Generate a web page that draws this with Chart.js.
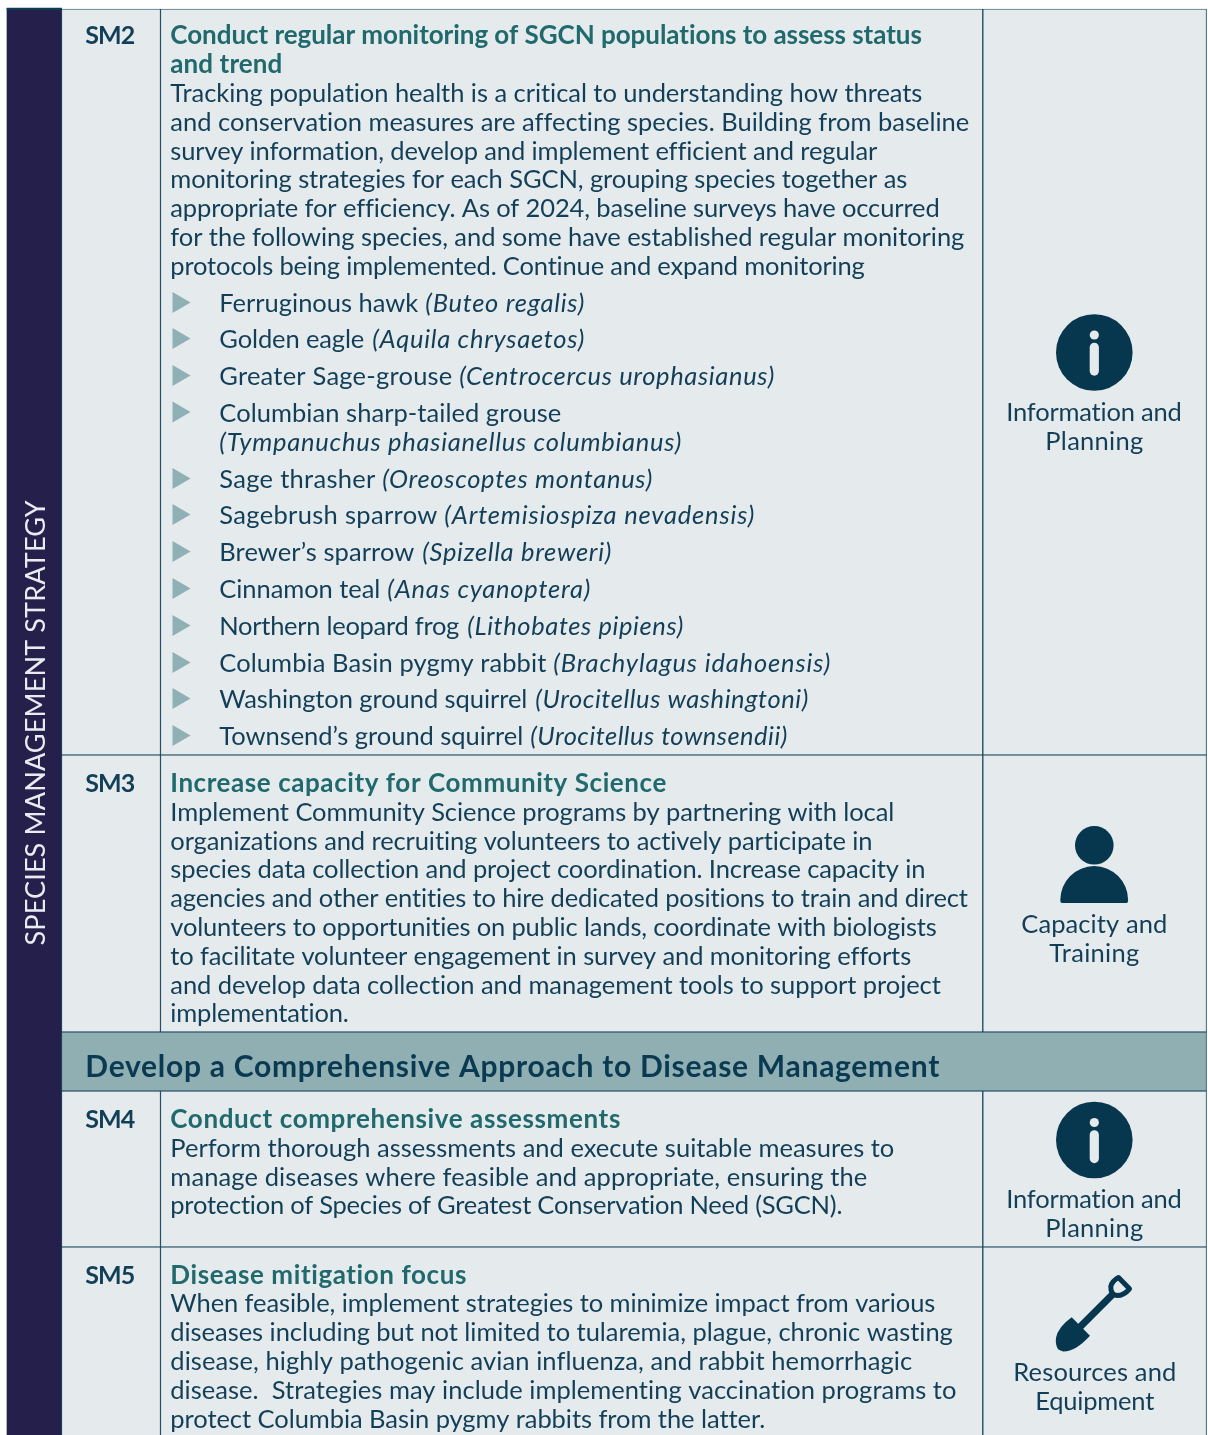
<!DOCTYPE html>
<html>
<head>
<meta charset="utf-8">
<title>Species Management Strategy</title>
<script src="https://cdn.jsdelivr.net/npm/chart.js@4"></script>
<style>
html,body{margin:0;padding:0;background:#fff}
canvas{display:block}
</style>
</head>
<body>
<canvas id="c" width="1208" height="1435"></canvas>
<script>
// ---------- content ----------
const sideTitle = "SPECIES MANAGEMENT STRATEGY";
const rowCodes = ["SM2", "SM3", "SM4", "SM5"];
const bandTitle = "Develop a Comprehensive Approach to Disease Management";
const sm2Title = ["Conduct regular monitoring of SGCN populations to assess status", "and trend"];
const sm2Body = [
  "Tracking population health is a critical to understanding how threats",
  "and conservation measures are affecting species. Building from baseline",
  "survey information, develop and implement efficient and regular",
  "monitoring strategies for each SGCN, grouping species together as",
  "appropriate for efficiency. As of 2024, baseline surveys have occurred",
  "for the following species, and some have established regular monitoring",
  "protocols being implemented. Continue and expand monitoring"
];
const speciesCommon = ["Ferruginous hawk", "Golden eagle", "Greater Sage-grouse", "Columbian sharp-tailed grouse", "", "Sage thrasher", "Sagebrush sparrow", "Brewer\u2019s sparrow", "Cinnamon teal", "Northern leopard frog", "Columbia Basin pygmy rabbit", "Washington ground squirrel", "Townsend\u2019s ground squirrel"];
const speciesLatin = ["(Buteo regalis)", "(Aquila chrysaetos)", "(Centrocercus urophasianus)", "", "(Tympanuchus phasianellus columbianus)", "(Oreoscoptes montanus)", "(Artemisiospiza nevadensis)", "(Spizella breweri)", "(Anas cyanoptera)", "(Lithobates pipiens)", "(Brachylagus idahoensis)", "(Urocitellus washingtoni)", "(Urocitellus townsendii)"];
const sm3Title = ["Increase capacity for Community Science"];
const sm3Body = [
  "Implement Community Science programs by partnering with local",
  "organizations and recruiting volunteers to actively participate in",
  "species data collection and project coordination. Increase capacity in",
  "agencies and other entities to hire dedicated positions to train and direct",
  "volunteers to opportunities on public lands, coordinate with biologists",
  "to facilitate volunteer engagement in survey and monitoring efforts",
  "and develop data collection and management tools to support project",
  "implementation."
];
const sm4Title = ["Conduct comprehensive assessments"];
const sm4Body = [
  "Perform thorough assessments and execute suitable measures to",
  "manage diseases where feasible and appropriate, ensuring the",
  "protection of Species of Greatest Conservation Need (SGCN)."
];
const sm5Title = ["Disease mitigation focus"];
const sm5Body = [
  "When feasible, implement strategies to minimize impact from various",
  "diseases including but not limited to tularemia, plague, chronic wasting",
  "disease, highly pathogenic avian influenza, and rabbit hemorrhagic",
  "disease.  Strategies may include implementing vaccination programs to",
  "protect Columbia Basin pygmy rabbits from the latter."
];
const typeLabels = [
  ["Information and", "Planning"],
  ["Capacity and", "Training"],
  ["Information and", "Planning"],
  ["Resources and", "Equipment"]
];

// ---------- table geometry on the chart's value axes ----------
const columnEdges = [7, 61.5, 160.5, 982.8, 1206.5];
const rowEdges = [9, 755, 1032, 1091, 1247, 1445];
const bandRow = 2;
const bulletRows = [302.5, 338.5, 375.5, 412, 478.5, 514.5, 551.5, 588.5, 625.5, 662.5, 698.5, 735.5];

// ---------- line layout (baseline, left, right in axis units) ----------
const sm2TitleLayout = [[43, 922], [72, 282]];
const sm2BodyLayout = [[101, 923], [130, 969], [159, 876], [187, 907], [216, 938], [245, 964], [274, 865]];
const speciesLayout = [
  [311, 418, 425, 584], [347, 364, 372, 584], [384, 452, 459, 774], [421, 561, 0, 0],
  [450, 0, 219, 681], [487, 375, 382, 652], [523, 437, 444, 754], [560, 414, 422, 611],
  [597, 380, 387, 590], [634, 459, 467, 683], [671, 546, 553, 830], [707, 527, 535, 808], [744, 523, 530, 787]
];
const sm3TitleLayout = [[791, 666]];
const sm3BodyLayout = [[820, 894], [849, 874], [877, 926], [906, 969], [935, 937], [964, 910], [993, 941], [1021, 349]];
const sm4TitleLayout = [[1127, 620]];
const sm4BodyLayout = [[1156, 894], [1185, 867], [1213, 843]];
const sm5TitleLayout = [[1283, 467]];
const sm5BodyLayout = [[1311, 935], [1340, 953], [1369, 912], [1398, 957], [1427, 764]];
const codeBaselines = [43, 791, 1127, 1283];
const typeLayout = [
  [[420, 1006, 1182], [449, 1045, 1143]],
  [[932, 1021, 1167], [961, 1049, 1139]],
  [[1207, 1006, 1182], [1236, 1045, 1143]],
  [[1380, 1013, 1176], [1409, 1035, 1154]]
];

// ---------- colours ----------
const ink = "#123f57", teal = "#20696c", iconInk = "#06374f";
const cellFill = "#e5eaed", bandFill = "#8fafb3", sideFill = "#251f4b", rule = "#0c3d55", bullet = "#8fb0b4";
const FONT = "Lato, sans-serif";
const DY = 0.7, DX = 0.3;

// ---------- datasets built from the geometry ----------
const mid = i => (columnEdges[i] + columnEdges[i + 1]) / 2;
const cellRows = rowEdges.slice(0, -1).map((e, i) => i).filter(i => i !== bandRow);
function columnDataset(col, fill) {
  return {
    type: "bar",
    label: "col" + col,
    data: cellRows.map(r => ({ x: mid(col), y: [rowEdges[r], rowEdges[r + 1]] })),
    barThickness: columnEdges[col + 1] - columnEdges[col],
    backgroundColor: fill, borderColor: rule, borderWidth: 0.95, borderSkipped: false, order: 5
  };
}
const datasets = [
  { type: "bar", label: "side", data: [{ x: mid(0), y: [rowEdges[0] - 0.5, rowEdges[rowEdges.length - 1]] }],
    barThickness: columnEdges[1] - columnEdges[0], backgroundColor: sideFill, borderWidth: 0, order: 6 },
  { type: "bar", label: "sideTop", data: [{ x: mid(0), y: [rowEdges[0] - 0.8, rowEdges[0] + 0.6] }],
    barThickness: columnEdges[1] - columnEdges[0], backgroundColor: "#0c3c52", borderWidth: 0, order: 5 },
  columnDataset(1, cellFill),
  columnDataset(2, cellFill),
  columnDataset(3, cellFill),
  { type: "bar", label: "band", data: [{ x: (columnEdges[1] + columnEdges[4]) / 2, y: [rowEdges[bandRow], rowEdges[bandRow + 1]] }],
    barThickness: columnEdges[4] - columnEdges[1], backgroundColor: bandFill, borderColor: rule, borderWidth: 0.95, borderSkipped: false, order: 4 },
  { type: "scatter", label: "bullets", data: bulletRows.map(y => ({ x: 178.5, y })),
    pointStyle: "triangle", rotation: 90, pointRadius: 12, backgroundColor: bullet, borderWidth: 0, order: 1 }
];

// ---------- text and icon drawing through the scales ----------
function fit(ctx, str, left, right, base) {
  ctx.letterSpacing = "0px";
  const w = ctx.measureText(str).width;
  const extra = right > left && str.length > 1 ? (right - left - w) / (str.length - 1) : 0;
  ctx.letterSpacing = extra.toFixed(3) + "px";
  ctx.fillText(str, left, base);
  ctx.letterSpacing = "0px";
}
const tableText = {
  id: "tableText",
  afterDatasetsDraw(chart) {
    const ctx = chart.ctx, X = v => chart.scales.x.getPixelForValue(v), Y = v => chart.scales.y.getPixelForValue(v);
    const TX = v => X(v) + DX, TY = v => Y(v) + DY;
    ctx.save();
    ctx.textBaseline = "alphabetic"; ctx.textAlign = "left";

    // side title
    ctx.save();
    ctx.translate(X(45), Y(945.5));
    ctx.rotate(-Math.PI / 2);
    ctx.fillStyle = "#e8ebf0";
    ctx.font = "400 27px " + FONT;
    fit(ctx, sideTitle, 0, 445, 0);
    ctx.restore();

    // row codes
    ctx.fillStyle = ink;
    ctx.font = "700 25px " + FONT;
    rowCodes.forEach((c, i) => fit(ctx, c, TX(85), TX(135), TY(codeBaselines[i])));

    // band
    ctx.font = "700 30px " + FONT;
    ctx.fillStyle = "#0a3a52";
    fit(ctx, bandTitle, TX(85), TX(939), TY(1076));

    const block = (titles, tLayout, body, bLayout) => {
      ctx.font = "700 26px " + FONT; ctx.fillStyle = teal;
      titles.forEach((t, i) => fit(ctx, t, TX(170), TX(tLayout[i][1]), TY(tLayout[i][0])));
      ctx.font = "400 25.5px " + FONT; ctx.fillStyle = ink;
      body.forEach((t, i) => fit(ctx, t, TX(170), TX(bLayout[i][1]), TY(bLayout[i][0])));
    };
    block(sm2Title, sm2TitleLayout, sm2Body, sm2BodyLayout);
    block(sm3Title, sm3TitleLayout, sm3Body, sm3BodyLayout);
    block(sm4Title, sm4TitleLayout, sm4Body, sm4BodyLayout);
    block(sm5Title, sm5TitleLayout, sm5Body, sm5BodyLayout);

    // species
    ctx.fillStyle = ink;
    speciesCommon.forEach((name, i) => {
      const [base, commonEnd, latinStart, latinEnd] = speciesLayout[i];
      if (name) { ctx.font = "400 25.5px " + FONT; fit(ctx, name, TX(219), TX(commonEnd), TY(base)); }
      if (speciesLatin[i]) { ctx.font = "italic 400 25.5px " + FONT; fit(ctx, speciesLatin[i], TX(latinStart), TX(latinEnd), TY(base)); }
    });

    // type labels
    ctx.font = "400 25.5px " + FONT; ctx.fillStyle = ink;
    typeLabels.forEach((lines, i) => lines.forEach((t, j) => {
      const [b, l, r] = typeLayout[i][j];
      fit(ctx, t, TX(l), TX(r), TY(b));
    }));

    // icons
    const info = (cx, cy) => {
      ctx.fillStyle = iconInk;
      ctx.beginPath(); ctx.arc(X(cx), Y(cy), 38.3, 0, Math.PI * 2); ctx.fill();
      ctx.fillStyle = cellFill;
      ctx.beginPath(); ctx.arc(X(cx), Y(cy - 17.5), 4.6, 0, Math.PI * 2); ctx.fill();
      ctx.beginPath(); ctx.roundRect(X(cx) - 4.6, Y(cy - 9.8), 9.2, 33, 4.6); ctx.fill();
    };
    info(1094.3, 352.5);
    info(1094.3, 1140);

    ctx.fillStyle = iconInk;
    ctx.beginPath(); ctx.arc(X(1094.3), Y(845.3), 19.3, 0, Math.PI * 2); ctx.fill();
    ctx.beginPath();
    ctx.moveTo(X(1062), Y(903));
    ctx.quadraticCurveTo(X(1060.3), Y(903), X(1060.3), Y(900));
    ctx.arc(X(1094.2), Y(900), 33.9, Math.PI, 0);
    ctx.quadraticCurveTo(X(1128.1), Y(903), X(1126.5), Y(903));
    ctx.closePath(); ctx.fill();

    // shovel
    ctx.beginPath();
    ctx.moveTo(X(1071.7), Y(1317.3));
    ctx.lineTo(X(1090), Y(1335.7));
    ctx.quadraticCurveTo(X(1075), Y(1352), X(1063), Y(1351.5));
    ctx.lineTo(X(1058.3), Y(1349.5));
    ctx.quadraticCurveTo(X(1055), Y(1345), X(1056), Y(1338));
    ctx.quadraticCurveTo(X(1058), Y(1327), X(1071.7), Y(1317.3));
    ctx.closePath(); ctx.fill();
    ctx.strokeStyle = iconInk; ctx.lineWidth = 7; ctx.lineCap = "butt";
    ctx.beginPath(); ctx.moveTo(X(1078), Y(1329)); ctx.lineTo(X(1114), Y(1293)); ctx.stroke();
    ctx.lineWidth = 5; ctx.lineJoin = "round";
    ctx.beginPath();
    ctx.moveTo(X(1118.5), Y(1277.5));
    ctx.lineTo(X(1129.5), Y(1288.8));
    ctx.quadraticCurveTo(X(1124), Y(1295.5), X(1117), Y(1295.5));
    ctx.quadraticCurveTo(X(1110.5), Y(1295), X(1110.8), Y(1286.5));
    ctx.quadraticCurveTo(X(1112), Y(1281), X(1118.5), Y(1277.5));
    ctx.closePath(); ctx.stroke();
    ctx.restore();
  }
};

new Chart(document.getElementById("c"), {
  data: { datasets },
  options: {
    responsive: false,
    animation: false,
    devicePixelRatio: 1,
    grouped: false,
    layout: { padding: 0, autoPadding: false },
    plugins: { legend: { display: false }, tooltip: { enabled: false } },
    scales: {
      x: { type: "linear", min: 0, max: 1208, offset: false, display: false, grid: { display: false } },
      y: { type: "linear", min: 0, max: 1435, reverse: true, display: false, grid: { display: false } }
    }
  },
  plugins: [tableText]
});
</script>
</body>
</html>
